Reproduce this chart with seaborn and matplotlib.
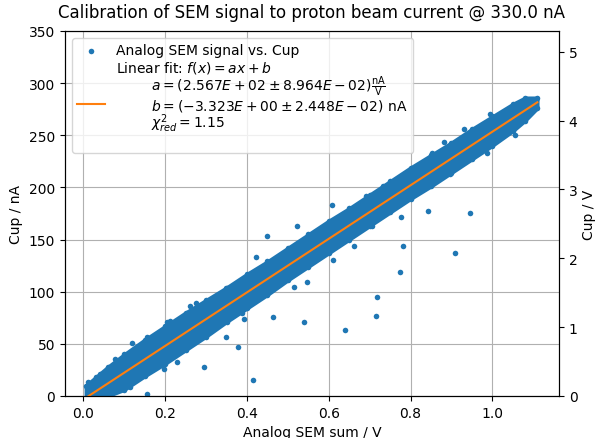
import matplotlib
matplotlib.use("Agg")
import matplotlib.pyplot as plt
import seaborn as sns
import numpy as np
import pandas as pd

# ---------------- data ----------------
# dense measurement band: x [V], upper / lower edge of the point cloud [nA]
band_x = [0.006, 0.03, 0.06, 0.10, 0.15, 0.20, 0.25, 0.30, 0.35, 0.40, 0.45,
          0.50, 0.55, 0.60, 0.65, 0.70, 0.75, 0.80, 0.85, 0.90, 0.95, 1.00,
          1.05, 1.08, 1.11]
band_upper = [10, 18, 28, 40, 54, 67, 80, 92, 104, 117, 129,
              142, 155, 168, 180, 193, 206, 219, 231, 243, 256, 268,
              280, 286, 286]
band_lower = [-5, -5, 0, 6, 19, 31, 44, 57, 71, 84, 97,
              111, 124, 137, 150, 163, 176, 189, 201, 214, 227, 240,
              254, 264, 276]

# fringe points sticking out of the band
fringe_x = [0.040, 0.077, 0.155, 0.212, 0.261, 0.114, 0.228, 0.881, 0.930,
            0.995, 1.069, 0.897, 0.693, 0.7055]
fringe_y = [21.1, 35.5, 56.3, 72.2, 86.6, 8.3, 32.3, 243.2, 256.0,
            270.4, 281.6, 212.8, 190.5, 163.3]

# individual points outside the band
outlier_x = [0.609, 0.523, 0.450, 0.4215, 0.348, 0.516, 0.546, 0.4646, 0.5405,
             0.640, 0.379, 0.295, 0.414, 0.662, 0.6115, 0.349, 0.7315, 0.6916,
             0.852, 0.7765, 0.8426, 0.9444, 0.7814, 0.9077, 0.7748, 0.987,
             1.056, 0.7177, 0.7153, 0.2754, 0.3937, 0.387, 0.118, 0.205,
             0.155, 0.197, 0.012]
outlier_y = [183.1, 163.3, 153.7, 133.0, 103.5, 104.2, 109.6, 76.0, 71.2,
             63.6, 46.7, 27.5, 15.6, 143.5, 130.4, 56.3, 201.1, 191.5,
             233.0, 171.9, 177.1, 175.2, 144.1, 137.1, 119.2, 232.7,
             250.2, 95.2, 77.0, 89.2, 73.8, 79.3, 50.5, 71.2,
             1.9, 25.9, 13.7]

# fit results
fit_a = 2.567e2
fit_b = -3.323
cup_nA_per_V = 330.0 / 5.0

label_data = "Analog SEM signal vs. Cup"
label_fit = ("Linear fit: $f(x) = ax + b$\n"
             "        $a = (2.567E+02 \\pm 8.964E-02)\\frac{\\mathrm{nA}}{\\mathrm{V}}$\n"
             "        $b = (-3.323E+00 \\pm 2.448E-02)$ nA\n"
             "        $\\chi^2_{red} = 1.15$\n ")

# ---------------- plot ----------------
blue = "#1f77b4"
orange = "#ff7f0e"

fig = plt.figure(figsize=(5.95, 4.39), dpi=100)
ax = fig.add_axes([0.1092, 0.0957, 0.8303, 0.8315])

pts = pd.DataFrame({
    "x": list(band_x) + list(band_x) + list(fringe_x) + list(outlier_x),
    "y": list(band_upper) + list(band_lower) + list(fringe_y) + list(outlier_y),
})

ax.fill_between(band_x, band_lower, band_upper, color=blue, linewidth=2.5,
                edgecolor=blue, zorder=2)
sns.scatterplot(data=pts, x="x", y="y", ax=ax, color=blue, s=16,
                linewidth=0, label=label_data, zorder=2)

fx = np.array([band_x[0], band_x[-1]])
sns.lineplot(x=fx, y=fit_a * fx + fit_b, ax=ax, color=orange, lw=1.5,
             label=label_fit, zorder=3)

ax.set_xlim(-0.045, 1.163)
ax.set_ylim(0, 350)
ax.set_xlabel("Analog SEM sum / V")
ax.set_ylabel("Cup / nA")
ax.set_title("Calibration of SEM signal to proton beam current @ 330.0 nA", pad=10)
ax.grid(True)
ax.set_axisbelow(True)

h, l = ax.get_legend_handles_labels()
leg = ax.legend(h, l, loc="upper left", labelspacing=0.1)
for t in leg.get_texts():
    t.set_linespacing(0.92)

ax2 = ax.twinx()
ax2.set_ylim(0, 350 / cup_nA_per_V)
ax2.set_ylabel("Cup / V", labelpad=3)

fig.savefig("out.png", dpi=100)
